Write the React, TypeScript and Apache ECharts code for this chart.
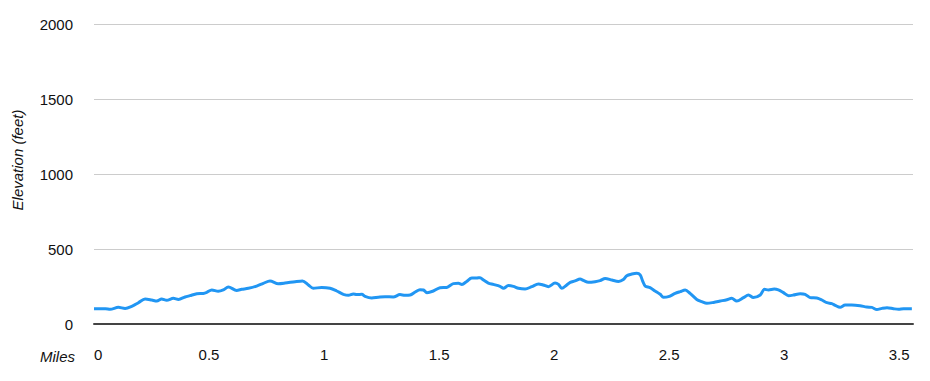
import React, { useEffect, useRef } from "react";
import * as echarts from "echarts";

const miles = [
  0.0, 0.05, 0.07, 0.106, 0.135, 0.164, 0.193, 0.222, 0.251, 0.273, 0.294, 0.316, 0.345, 0.367, 0.396, 0.417,
  0.447, 0.475, 0.49, 0.512, 0.54, 0.562, 0.584, 0.62, 0.642, 0.671, 0.707, 0.736, 0.765, 0.801, 0.83, 0.874,
  0.906, 0.932, 0.953, 0.99, 1.026, 1.055, 1.084, 1.106, 1.127, 1.142, 1.164, 1.178, 1.207, 1.236, 1.265, 1.301,
  1.33, 1.352, 1.374, 1.396, 1.417, 1.432, 1.447, 1.475, 1.504, 1.533, 1.562, 1.584, 1.599, 1.62, 1.642, 1.664,
  1.678, 1.693, 1.714, 1.736, 1.765, 1.78, 1.801, 1.823, 1.845, 1.874, 1.903, 1.932, 1.953, 1.975, 2.004, 2.019,
  2.033, 2.055, 2.07, 2.091, 2.113, 2.127, 2.149, 2.178, 2.2, 2.222, 2.251, 2.28, 2.301, 2.316, 2.338, 2.359,
  2.374, 2.386, 2.396, 2.417, 2.439, 2.461, 2.475, 2.497, 2.526, 2.548, 2.57, 2.591, 2.62, 2.642, 2.664, 2.693,
  2.722, 2.751, 2.772, 2.794, 2.823, 2.845, 2.866, 2.896, 2.914, 2.932, 2.957, 2.975, 2.997, 3.019, 3.04, 3.07,
  3.091, 3.113, 3.142, 3.164, 3.186, 3.207, 3.222, 3.243, 3.265, 3.294, 3.33, 3.359, 3.381, 3.403, 3.425, 3.447,
  3.475, 3.497, 3.519, 3.555,
];

const elevationFeet = [
  102, 102, 98, 111, 104, 118, 142, 167, 160, 153, 167, 158, 171, 164, 180, 189,
  202, 204, 211, 227, 218, 227, 247, 224, 231, 238, 253, 271, 287, 269, 273, 282,
  287, 260, 238, 244, 238, 220, 198, 191, 200, 196, 198, 184, 173, 178, 182, 180,
  196, 191, 193, 213, 229, 227, 209, 220, 242, 244, 269, 271, 264, 284, 307, 307,
  309, 293, 273, 264, 251, 238, 256, 251, 238, 233, 249, 267, 260, 249, 273, 264,
  238, 260, 278, 287, 300, 291, 278, 282, 289, 304, 293, 284, 296, 322, 333, 338,
  327, 282, 253, 242, 220, 198, 178, 182, 204, 216, 227, 204, 164, 149, 138, 144,
  153, 162, 171, 153, 176, 193, 176, 193, 231, 227, 233, 227, 209, 189, 193, 202,
  198, 176, 173, 160, 142, 136, 124, 111, 127, 127, 122, 113, 111, 96, 104, 109,
  102, 98, 102, 102,
];

const yTicks = [0, 500, 1000, 1500, 2000];
const xTicks = [0, 0.5, 1, 1.5, 2, 2.5, 3, 3.5];
const xMaxMiles = 3.56;

const FONT = "'Liberation Sans', Arial, Helvetica, sans-serif";
const TEXT = "#111111";

export default function App() {
  const ref = useRef<HTMLDivElement>(null);

  useEffect(() => {
    document.body.style.margin = "0";
    if (!ref.current) return;
    const chart = echarts.init(ref.current, undefined, { renderer: "svg" });
    const data = miles.map((m, i) => [m, elevationFeet[i]]);
    chart.setOption({
      animation: false,
      backgroundColor: "#ffffff",
      grid: { left: 94, right: 17, top: 24, bottom: 57, containLabel: false },
      xAxis: {
        type: "value",
        min: 0,
        max: xMaxMiles,
        interval: 0.5,
        axisLine: { show: true, onZero: false, lineStyle: { color: "#444444", width: 2 } },
        axisTick: { show: false },
        splitLine: { show: false },
        axisLabel: {
          margin: 23,
          color: TEXT,
          fontFamily: FONT,
          fontSize: 15,
          hideOverlap: false,
          alignMinLabel: "left",
          formatter: (v: number) => (xTicks.some((t) => Math.abs(t - v) < 1e-6) ? String(v) : ""),
        },
      },
      yAxis: {
        type: "value",
        min: yTicks[0],
        max: yTicks[yTicks.length - 1],
        interval: 500,
        axisLine: { show: false },
        axisTick: { show: false },
        splitLine: { show: true, lineStyle: { color: "#cccccc", width: 1 } },
        axisLabel: {
          margin: 21,
          color: TEXT,
          fontFamily: FONT,
          fontSize: 15,
          formatter: (v: number) => String(v),
        },
      },
      graphic: [
        {
          type: "text",
          x: 17,
          y: 160,
          rotation: Math.PI / 2,
          style: {
            text: "Elevation (feet)",
            fontFamily: FONT,
            fontSize: 15,
            fontStyle: "italic",
            fill: TEXT,
            align: "center",
            verticalAlign: "middle",
          },
        },
        {
          type: "text",
          x: 75,
          y: 356,
          style: {
            text: "Miles",
            fontFamily: FONT,
            fontSize: 15,
            fontStyle: "italic",
            fill: TEXT,
            align: "right",
            verticalAlign: "middle",
          },
        },
      ],
      series: [
        {
          type: "line",
          data,
          showSymbol: false,
          smooth: 0.3,
          lineStyle: { color: "#2196f3", width: 3 },
          z: 3,
        },
      ],
    });
    return () => chart.dispose();
  }, []);

  return <div ref={ref} style={{ width: 930, height: 381 }} />;
}
